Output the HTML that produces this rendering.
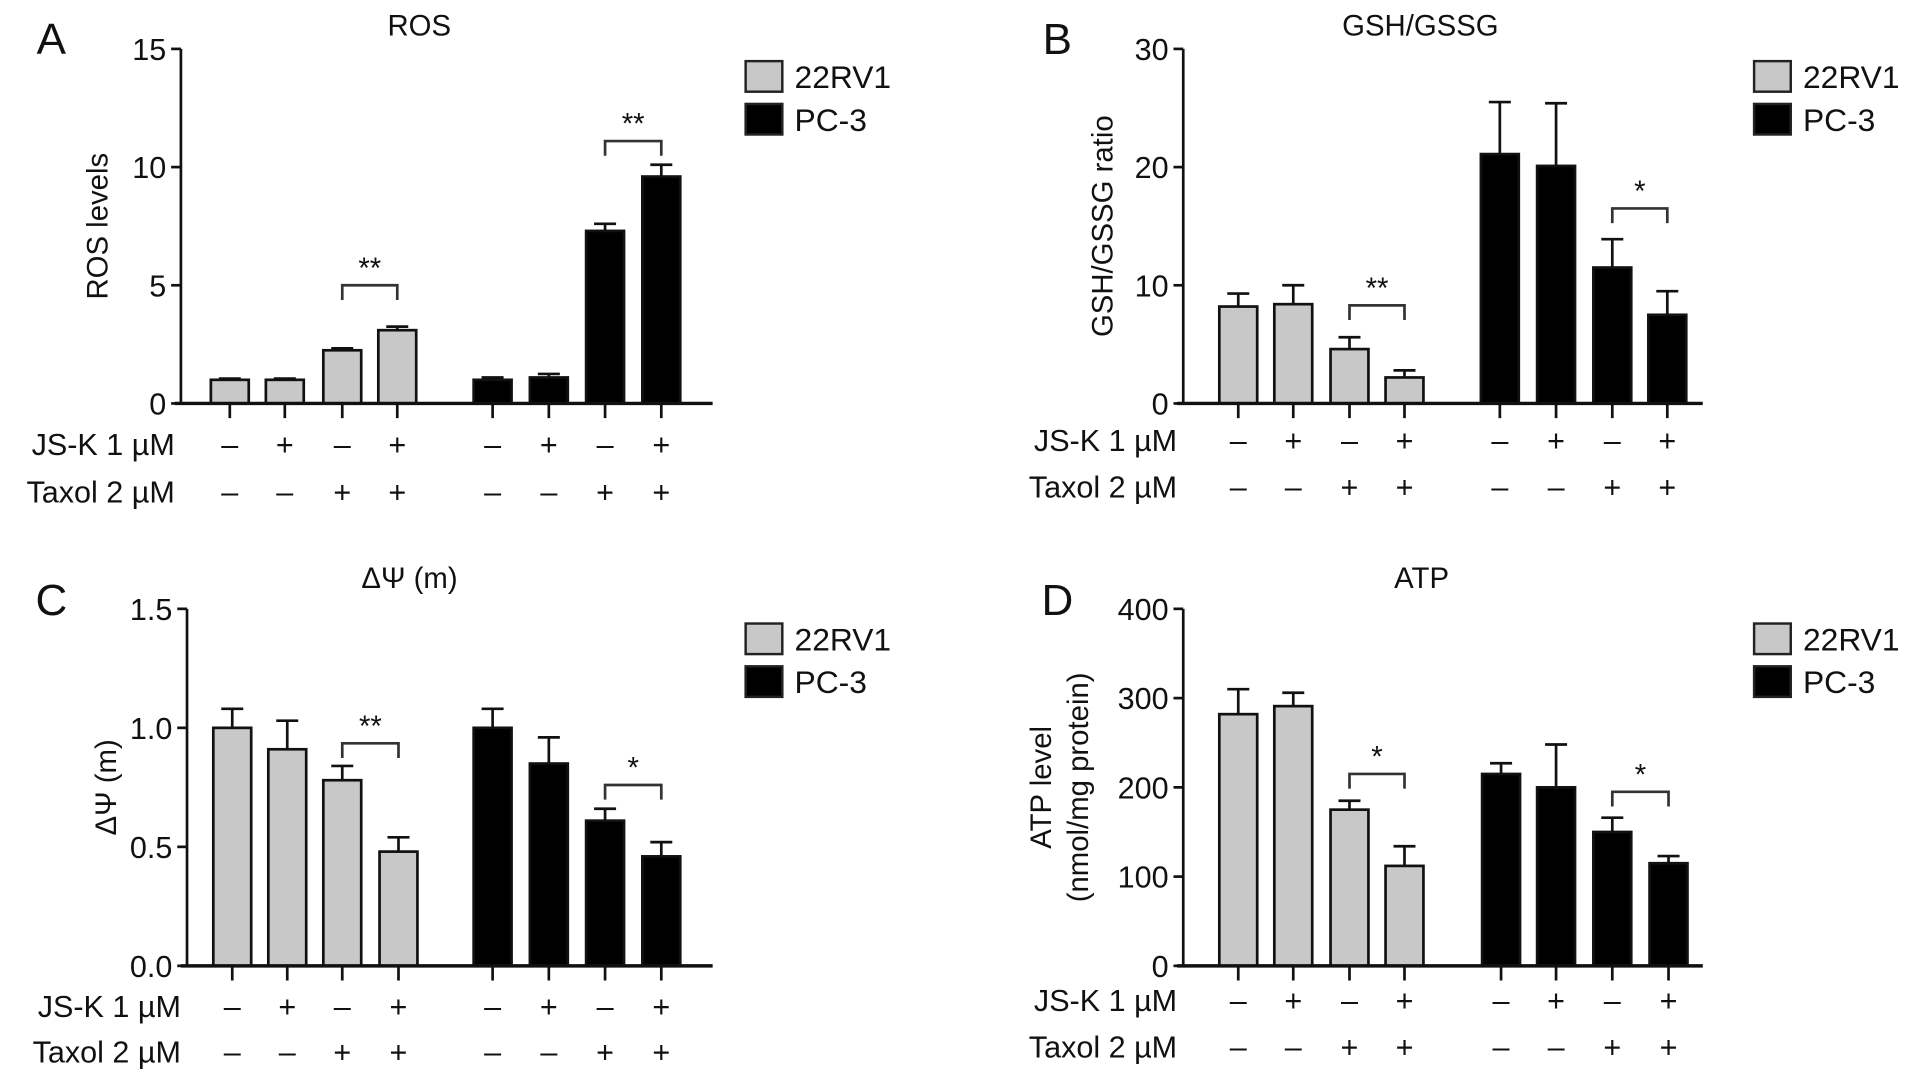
<!DOCTYPE html>
<html><head><meta charset="utf-8"><style>
html,body{margin:0;padding:0;background:#fff;}
svg{display:block;}
text{font-family:"Liberation Sans",sans-serif;fill:#111;}
</style></head><body>
<svg id="fig" width="1913" height="1082" viewBox="0 0 1565 885" preserveAspectRatio="none" xmlns="http://www.w3.org/2000/svg"></svg>
<script>
const rosMeans = [1.0, 1.0, 2.25, 3.1, 1.0, 1.1, 7.3, 9.6];
const rosErrs = [0.05, 0.05, 0.08, 0.15, 0.1, 0.15, 0.3, 0.5];
const gshMeans = [8.2, 8.4, 4.6, 2.2, 21.1, 20.1, 11.5, 7.5];
const gshErrs = [1.1, 1.6, 1.0, 0.6, 4.4, 5.3, 2.4, 2.0];
const psiMeans = [1.0, 0.91, 0.78, 0.48, 1.0, 0.85, 0.61, 0.46];
const psiErrs = [0.08, 0.12, 0.06, 0.06, 0.08, 0.11, 0.05, 0.06];
const atpMeans = [282, 291, 175, 112, 215, 200, 150, 115];
const atpErrs = [28, 15, 10, 22, 12, 48, 16, 8];
const rosTicks = ["0","5","10","15"];
const gshTicks = ["0","10","20","30"];
const psiTicks = ["0.0","0.5","1.0","1.5"];
const atpTicks = ["0","100","200","300","400"];
const jskRow = ["–","+","–","+","–","+","–","+"];
const taxolRow = ["–","–","+","+","–","–","+","+"];
const legendLabels = ["22RV1","PC-3"];

const NS="http://www.w3.org/2000/svg";
const svg=document.getElementById('fig');
function el(tag,attrs,parent){const e=document.createElementNS(NS,tag);for(const k in attrs)e.setAttribute(k,attrs[k]);(parent||svg).appendChild(e);return e;}

const panels=[
 {letter:"A",title:"ROS",ylab:["ROS levels"],means:rosMeans,errs:rosErrs,ticks:rosTicks,max:15,ax:148,top:40,zero:330,x0:143,x1:583,
  centers:[188,233,280,325,403,449,495,541],lx:42,ly:33,tx:343,ty:29,legX:610,legY:50,rowY:[372,411],ylx:88,
  brackets:[[2,3,5.0,"**"],[6,7,11.1,"**"]],name:"ros"},
 {letter:"B",title:"GSH/GSSG",ylab:["GSH/GSSG ratio"],means:gshMeans,errs:gshErrs,ticks:gshTicks,max:30,ax:968,top:40,zero:330,x0:963,x1:1393,
  centers:[1013,1058,1104,1149,1227,1273,1319,1364],lx:865,ly:33,tx:1162,ty:29,legX:1435,legY:50,rowY:[369,407],ylx:910,
  brackets:[[2,3,8.3,"**"],[6,7,16.5,"*"]],name:"gsh"},
 {letter:"C",title:"ΔΨ (m)",ylab:["ΔΨ (m)"],means:psiMeans,errs:psiErrs,ticks:psiTicks,max:1.5,ax:153,top:498,zero:790,x0:148,x1:583,
  centers:[190,235,280,326,403,449,495,541],lx:42,ly:492,tx:335,ty:481,legX:610,legY:510,rowY:[832,869],ylx:95,
  brackets:[[2,3,0.935,"**"],[6,7,0.76,"*"]],name:"psi"},
 {letter:"D",title:"ATP",ylab:["ATP level","(nmol/mg protein)"],means:atpMeans,errs:atpErrs,ticks:atpTicks,max:400,ax:968,top:498,zero:790,x0:963,x1:1393,
  centers:[1013,1058,1104,1149,1228,1273,1319,1365],lx:865,ly:492,tx:1163,ty:481,legX:1435,legY:510,rowY:[827,865],ylx:860,
  brackets:[[2,3,215,"*"],[6,7,195,"*"]],name:"atp"}
];

panels.forEach(p=>{
  const g=el('g',{});
  
  
  const y=v=>p.zero-(v/p.max)*(p.zero-p.top);
  const L=el('text',{x:p.lx,y:p.ly+11,'font-size':36,'text-anchor':'middle'},g);L.textContent=p.letter;
  
  const T=el('text',{x:p.tx,y:p.ty,'font-size':24,'text-anchor':'middle'},g);T.textContent=p.title;
  
  const cy=(p.top+p.zero)/2;
  p.ylab.forEach((s,i)=>{
    const t=el('text',{x:p.ylx+i*30,y:cy,'font-size':24,'text-anchor':'middle',transform:`rotate(-90 ${p.ylx+i*30} ${cy})`},g);
    t.textContent=s;
    
  });
  const ya=el('line',{x1:p.ax,y1:p.top,x2:p.ax,y2:p.zero,stroke:'#111','stroke-width':2.2},g);
  
  const n=p.ticks.length;
  p.ticks.forEach((lab,i)=>{
    const v=p.max*i/(n-1);const yy=y(v);
    el('line',{x1:p.ax-8,y1:yy,x2:p.ax,y2:yy,stroke:'#111','stroke-width':2.2},g);
    const t=el('text',{x:p.ax-12,y:yy+9,'font-size':25,'text-anchor':'end'},g);t.textContent=lab;
    
  });
  p.means.forEach((m,i)=>{
    const cx=p.centers[i],w=31,grey=i<4;
    const e=p.errs[i];
    el('line',{x1:cx,y1:y(m),x2:cx,y2:y(m+e),stroke:'#111','stroke-width':2.2},g);
    el('line',{x1:cx-9,y1:y(m+e),x2:cx+9,y2:y(m+e),stroke:'#111','stroke-width':2.2},g);
    const b=el('rect',{x:cx-w/2,y:y(m),width:w,height:p.zero-y(m),fill:grey?'#c8c8c8':'#000',stroke:'#111','stroke-width':2.2},g);
    
    
    el('line',{x1:cx,y1:p.zero,x2:cx,y2:p.zero+12,stroke:'#111','stroke-width':2.2},g);
    const a=el('text',{x:cx,y:p.rowY[0],'font-size':25,'text-anchor':'middle'},g);a.textContent=jskRow[i];
    
    const c=el('text',{x:cx,y:p.rowY[1],'font-size':25,'text-anchor':'middle'},g);c.textContent=taxolRow[i];
    
  });
  const xa=el('line',{x1:p.x0,y1:p.zero,x2:p.x1,y2:p.zero,stroke:'#111','stroke-width':2.8},g);
  
  const r1=el('text',{x:p.ax-5,y:p.rowY[0],'font-size':25,'text-anchor':'end'},g);r1.textContent="JS-K 1 µM";
  
  const r2=el('text',{x:p.ax-5,y:p.rowY[1],'font-size':25,'text-anchor':'end'},g);r2.textContent="Taxol 2 µM";
  
  p.brackets.forEach(bk=>{
    const xa=p.centers[bk[0]],xb=p.centers[bk[1]],yy=y(bk[2]);
    const pth=el('path',{d:`M${xa} ${yy+12}V${yy}H${xb}V${yy+12}`,fill:'none',stroke:'#333','stroke-width':2.2},g);
    
    const s=el('text',{x:(xa+xb)/2,y:yy-6,'font-size':24,'text-anchor':'middle',fill:'#444'},g);s.textContent=bk[3];
    
  });
  legendLabels.forEach((lab,i)=>{
    const yy=p.legY+i*35;
    const r=el('rect',{x:p.legX,y:yy,width:30,height:25,fill:i===0?'#c8c8c8':'#000',stroke:'#222','stroke-width':2},g);
    
    const t=el('text',{x:p.legX+40,y:yy+22,'font-size':26},g);t.textContent=lab;
    
  });
});
</script>
</body></html>
